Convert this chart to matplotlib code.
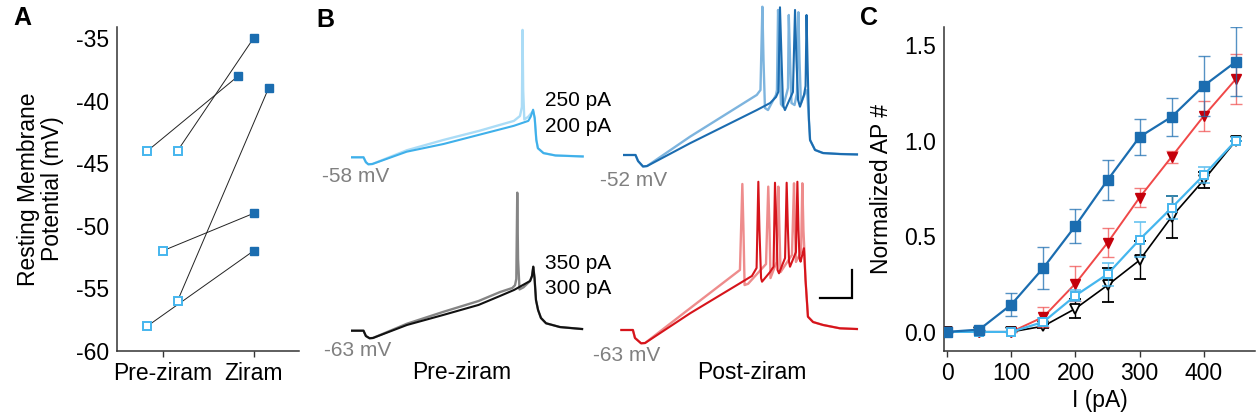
import numpy as np
import matplotlib
matplotlib.use('Agg')
import matplotlib.pyplot as plt

plt.rcParams['font.family'] = ['Liberation Sans', 'DejaVu Sans']
plt.rcParams['axes.unicode_minus'] = False

# ---- panel A: resting membrane potential (mV) ----
pre_rmp = [-44, -44, -52, -56, -58]
zir_rmp = [-38, -35, -49, -39, -52]
pre_jit = [-0.165, 0.165, 0.0, 0.165, -0.165]
zir_jit = [-0.165, 0.0, 0.0, 0.165, 0.0]
groups = ['Pre-ziram', 'Ziram']

# ---- panel C: normalized AP number vs current ----
current_pA = [0, 50, 100, 150, 200, 250, 300, 350, 400, 450]
post_blue = [0, 0.012, 0.143, 0.335, 0.555, 0.794, 1.02, 1.125, 1.287, 1.413]
post_blue_err = [0, 0, 0.06, 0.11, 0.09, 0.105, 0.095, 0.1, 0.155, 0.18]
post_red = [0, 0, 0, 0.078, 0.253, 0.466, 0.703, 0.916, 1.129, 1.322]
post_red_err = [0, 0, 0, 0.05, 0.09, 0.075, 0.05, 0.03, 0.08, 0.13]
pre_lblue = [0, 0, 0, 0.052, 0.19, 0.302, 0.483, 0.649, 0.82, 1.0]
pre_lblue_err = [0, 0, 0, 0.02, 0.03, 0.06, 0.09, 0.06, 0.04, 0]
pre_black = [0, 0, 0, 0.03, 0.122, 0.244, 0.375, 0.602, 0.794, 1.0]
pre_black_err = [0, 0, 0, 0.01, 0.05, 0.09, 0.1, 0.11, 0.04, 0]

# ---- panel B: example traces (ms, mV) ----
tl_250_t = [-75, 0, 15, 30, 55, 270, 500, 720, 940, 978, 990, 994, 998, 1005, 1030, 1060, 1070, 1080, 1090, 1125, 1200, 1370]
tl_250_v = [-58, -58, -61.5, -63, -62.8, -53, -45.6, -39.2, -32, -28.5, -22, 33, -10, -31, -29, -25, -30, -45.5, -51.5, -55, -56.7, -57.4]
tl_200_t = [-75, 0, 15, 30, 55, 270, 500, 720, 940, 1030, 1045, 1060, 1070, 1080, 1090, 1125, 1200, 1370]
tl_200_v = [-58, -58, -61.5, -63, -62.8, -54, -48.5, -42, -35.5, -32, -29, -24, -30, -45.5, -51.5, -55, -56.7, -57.4]

bl_350_t = [-75, 0, 15, 38, 59, 272, 497, 719, 853, 930, 947, 955, 961, 966, 975, 1000, 1041, 1053, 1061, 1069, 1078, 1091, 1109, 1141, 1228, 1366]
bl_350_v = [-63, -63, -66.8, -68.4, -68.2, -58, -49.6, -41.8, -35.4, -32.5, -30.5, -26, 35.6, -12, -33.5, -32, -27.5, -24, -17.3, -25.4, -41.1, -48.2, -53.9, -57.7, -60.4, -61.8]
bl_300_t = [-75, 0, 15, 38, 59, 272, 497, 719, 853, 941, 1041, 1053, 1061, 1069, 1078, 1091, 1109, 1141, 1228, 1366]
bl_300_v = [-63, -63, -66.8, -68.4, -68.2, -58.9, -51.8, -44.6, -38.2, -33.9, -27.5, -24, -17.3, -25.4, -41.1, -48.2, -53.9, -57.7, -60.4, -61.8]

tr_250_t = [-72, 0, 16, 47, 72, 341, 758, 781, 793, 800, 809, 828, 878, 884, 891, 900, 909, 922, 947, 953, 958, 966, 975, 994, 1009, 1018, 1025, 1034, 1059, 1072, 1084, 1091, 1122, 1172, 1278, 1384]
tr_250_v = [-52, -52, -56.3, -60.2, -59.9, -38.9, -9.1, -5.6, 53.9, 15.9, -18.4, -19.9, -9.1, -5.6, 51.6, 15.9, -15.6, -17.5, -7, -4.1, 48, 15.9, -14.9, -16.3, -8, 50, 15.9, -15, -8, -5.6, -27, -41.3, -48.4, -50.6, -51.3, -51.6]
tr_200_t = [-72, 0, 16, 47, 72, 341, 758, 841, 878, 893, 903, 913, 922, 934, 984, 997, 1006, 1016, 1028, 1053, 1063, 1069, 1075, 1084, 1091, 1122, 1172, 1278, 1384]
tr_200_v = [-52, -52, -56.3, -60.2, -59.9, -43.6, -19.9, -14.9, -10.6, -6.8, 53.5, 15.9, -16.3, -19.9, -7, 51.6, 15.9, -12.7, -17.5, -9.1, -2.7, 48, 15.9, -27, -41.3, -48.4, -50.6, -51.3, -51.6]

br_350_t = [-72, 0, 13, 51, 76, 357, 669, 684, 691, 698, 720, 832, 846, 854, 860, 898, 909, 916, 923, 994, 1007, 1013, 1019, 1051, 1059, 1066, 1073, 1079, 1094, 1126, 1188, 1294, 1400]
br_350_v = [-63, -63, -68.7, -72.5, -72.3, -47.5, -20.1, 41.3, 8.4, -30.9, -30, -15.9, 39.4, 8, -25.9, -14.4, 39.4, 8, -21.6, -9.4, 41.8, 8, -14.4, -7.3, 41.8, 8, -9.4, -27.3, -53.5, -57.3, -59.4, -61.8, -62.3]
br_300_t = [-72, 0, 13, 51, 76, 357, 669, 744, 773, 784, 791, 801, 807, 857, 879, 888, 898, 904, 913, 951, 961, 969, 976, 982, 1019, 1028, 1035, 1041, 1048, 1063, 1069, 1079, 1094, 1126, 1188, 1294, 1400]
br_300_v = [-63, -63, -68.7, -72.5, -72.3, -51.1, -29.6, -24.4, -18.7, 42.9, 8.4, -25.9, -28.5, -21.6, -17.8, 42.2, 8.4, -20.1, -22.5, -11.6, 42.2, 8.4, -14.4, -17.8, -7.3, 42.9, 8.4, -11.6, -14.2, -7.3, -4.6, -27.3, -53.5, -57.3, -59.4, -61.8, -62.3]

scalebar_ms = 200
scalebar_mV = 20

DARK = '#1b6db0'
LIGHT = '#45b6ee'
RED_LINE = '#f04848'
RED_MK = '#c4000b'
AXC = '#333333'
FS = 16.5

W, H = 1257, 419
fig = plt.figure(figsize=(W / 100, H / 100), dpi=100)


def px_axes(left, top, right, bottom):
    return fig.add_axes([left / W, 1 - bottom / H, (right - left) / W, (bottom - top) / H])


def style(ax):
    for s in ['top', 'right']:
        ax.spines[s].set_visible(False)
    for s in ['left', 'bottom']:
        ax.spines[s].set_color(AXC)
        ax.spines[s].set_linewidth(1.1)
    ax.tick_params(axis='x', length=4, width=1, color=AXC, labelsize=FS, pad=4)
    ax.tick_params(axis='y', length=0, labelsize=FS, pad=6)


# ---- A ----
axA = px_axes(117, 27, 299, 351)
for p, z, pj, zj in zip(pre_rmp, zir_rmp, pre_jit, zir_jit):
    axA.plot([1 + pj, 2 + zj], [p, z], color='#222222', lw=0.7, zorder=1)
axA.plot(1 + np.array(pre_jit), pre_rmp, 's', ms=6, mfc='white', mec=LIGHT, mew=1.4, zorder=3)
axA.plot(2 + np.array(zir_jit), zir_rmp, 's', ms=6, mfc=DARK, mec=DARK, zorder=3)
axA.set_xlim(0.5, 2.5)
axA.set_ylim(-60, -34.1)
axA.set_xticks([1, 2])
axA.set_xticklabels(groups)
axA.set_yticks([-60, -55, -50, -45, -40, -35])
style(axA)
axA.set_ylabel('Resting Membrane\nPotential (mV)', fontsize=FS, labelpad=8, linespacing=1.1)

# ---- B ----
MS_PER_PX = 6.25
PX_PER_MV = 1.4
T_MIN, T_MAX = -80, 1420
V_MIN, V_MAX = -80, 60


def trace_axes(onset_x, rest_y, rest_mv):
    left = onset_x + T_MIN / MS_PER_PX
    right = onset_x + T_MAX / MS_PER_PX
    top = rest_y - (V_MAX - rest_mv) * PX_PER_MV
    bottom = rest_y + (rest_mv - V_MIN) * PX_PER_MV
    ax = px_axes(left, top, right, bottom)
    ax.set_xlim(T_MIN, T_MAX)
    ax.set_ylim(V_MIN, V_MAX)
    ax.axis('off')
    return ax


ax_tl = trace_axes(363.5, 157.3, -58)
ax_tl.plot(tl_250_t, tl_250_v, color='#abdcf6', lw=1.7)
ax_tl.plot(tl_200_t, tl_200_v, color='#3fb0ea', lw=1.5)

ax_bl = trace_axes(363.5, 330.7, -63)
ax_bl.plot(bl_350_t, bl_350_v, color='#858585', lw=1.7)
ax_bl.plot(bl_300_t, bl_300_v, color='#111111', lw=1.5)

ax_tr = trace_axes(635.5, 155.0, -52)
ax_tr.plot(tr_250_t, tr_250_v, color='#7db4de', lw=1.7)
ax_tr.plot(tr_200_t, tr_200_v, color='#1b6cb0', lw=1.5)

ax_br = trace_axes(632.9, 330.0, -63)
ax_br.plot(br_350_t, br_350_v, color='#ee8c8c', lw=1.7)
ax_br.plot(br_300_t, br_300_v, color='#d6141b', lw=1.5)
sb_x1, sb_y0 = 1368, -40
ax_br.plot([sb_x1 - scalebar_ms, sb_x1, sb_x1], [sb_y0, sb_y0, sb_y0 + scalebar_mV],
           color='black', lw=1.6, solid_joinstyle='miter')


def ftext(x, y, s, **kw):
    fig.text(x / W, 1 - y / H, s, **kw)


GR = '#808080'
ftext(322, 176, '-58 mV', color=GR, fontsize=15, va='center')
ftext(600, 180, '-52 mV', color=GR, fontsize=15, va='center')
ftext(324, 350, '-63 mV', color=GR, fontsize=15, va='center')
ftext(593, 355, '-63 mV', color=GR, fontsize=15, va='center')
ftext(545, 101, '250 pA', fontsize=15, va='center')
ftext(545, 126, '200 pA', fontsize=15, va='center')
ftext(545, 263, '350 pA', fontsize=15, va='center')
ftext(545, 288, '300 pA', fontsize=15, va='center')
ftext(462, 372, 'Pre-ziram', fontsize=FS, va='center', ha='center')
ftext(752, 372, 'Post-ziram', fontsize=FS, va='center', ha='center')

# ---- C ----
axC = px_axes(944, 27, 1255, 351)
ekw = dict(elinewidth=1.0, capsize=4, capthick=1.0)
axC.errorbar(current_pA, pre_black, yerr=pre_black_err, color='black', lw=1.2,
             marker='v', ms=7, mfc='white', mec='black', mew=1.3, ecolor='black', zorder=2, **ekw)
axC.errorbar(current_pA, post_red, yerr=post_red_err, color=RED_LINE, lw=1.4,
             marker='v', ms=7, mfc=RED_MK, mec=RED_MK, ecolor=(0.94, 0.28, 0.28, 0.7), zorder=3, **ekw)
axC.errorbar(current_pA, pre_lblue, yerr=pre_lblue_err, color=LIGHT, lw=1.6,
             marker='s', ms=6, mfc='white', mec=LIGHT, mew=1.4, ecolor=(0.27, 0.71, 0.93, 0.7), zorder=4, **ekw)
axC.errorbar(current_pA, post_blue, yerr=post_blue_err, color=DARK, lw=1.6,
             marker='s', ms=6.5, mfc=DARK, mec=DARK, ecolor=(0.11, 0.43, 0.69, 0.75), zorder=5, **ekw)
axC.set_xlim(-5, 480)
axC.set_ylim(-0.1, 1.595)
axC.set_xticks([0, 100, 200, 300, 400])
axC.set_yticks([0, 0.5, 1.0, 1.5])
axC.set_yticklabels(['0.0', '0.5', '1.0', '1.5'])
style(axC)
axC.set_xlabel('I (pA)', fontsize=FS, labelpad=3)
axC.set_ylabel('Normalized AP #', fontsize=FS, labelpad=8)

# panel letters
ftext(13, 18, 'A', fontsize=18, fontweight='bold', va='center')
ftext(316, 20, 'B', fontsize=18, fontweight='bold', va='center')
ftext(860, 18, 'C', fontsize=18, fontweight='bold', va='center')

fig.savefig('out.png', dpi=100)
